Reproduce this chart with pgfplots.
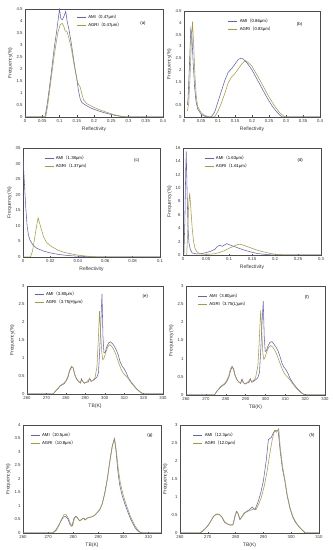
\documentclass[border=0pt]{standalone}
\usepackage{pgfplots}
\pgfplotsset{compat=1.18}
\usepackage{fontspec}
\setmainfont{Liberation Sans}
\newfontfamily\cjk{Noto Sans CJK SC}
\definecolor{ami}{RGB}{95,95,205}
\definecolor{agri}{RGB}{170,155,55}
\newcommand{\lp}{{\cjk （}}
\newcommand{\rp}{{\cjk ）}}
\pgfplotsset{
 panel/.style={
  scale only axis, anchor=south west,
  axis line style={black!70, line width=0.3pt},
  tick style={black!70, line width=0.3pt},
  tick align=inside, major tick length=1.5pt,
  xtick pos=bottom, ytick pos=left,
  scaled ticks=false,
  /pgf/number format/assume math mode=true,
  /pgf/number format/fixed, /pgf/number format/precision=3,
  tick label style={font=\fontsize{4.3}{5}\selectfont, text=black!80},
  xticklabel style={yshift=1pt},
  yticklabel style={xshift=1pt},
  label style={font=\fontsize{5}{6}\selectfont, text=black!80},
  ylabel={Frequency(\%)},
  xlabel style={yshift=3pt},
  ylabel style={yshift=-3pt},
  ymin=0,
  legend style={draw=none, fill=none, font=\fontsize{4.3}{4.8}\selectfont, anchor=north west, legend cell align=left, row sep=-1.5pt, inner sep=0.5pt},
  legend image code/.code={\draw[##1] (0bp,0bp) -- (9bp,0bp);},
  every axis plot/.append style={line width=0.55pt, no markers},
 },
}
\begin{document}
\begin{tikzpicture}
\useasboundingbox (0,0) rectangle (333bp,550bp);
% (a)
\begin{axis}[panel, at={(25bp,433bp)}, width=138bp, height=108bp,
 xmin=0, xmax=0.4, ymax=4.5, xtick={0,0.05,...,0.4}, ytick={0,0.5,...,4.5},
 xlabel={Reflectivity}, legend style={at={(0.37,0.97)}}]
\addplot[ami] coordinates {(0,0)(0.05,0)(0.058,0)(0.065,0.6)(0.075,1.7)(0.085,2.9)(0.093,3.7)(0.1,4.5)(0.104,4.1)(0.108,4.05)(0.113,4.2)(0.118,4.4)(0.122,4.0)(0.128,3.6)(0.135,3.0)(0.142,2.3)(0.15,1.6)(0.155,1.1)(0.16,0.75)(0.165,0.6)(0.175,0.5)(0.19,0.38)(0.2,0.32)(0.22,0.22)(0.24,0.14)(0.26,0.07)(0.28,0.02)(0.29,0)(0.4,0)};
\addlegendentry{AMI\lp 0.47μm\rp}
\addplot[agri] coordinates {(0,0)(0.06,0)(0.066,0.5)(0.075,1.5)(0.085,2.6)(0.095,3.5)(0.102,3.85)(0.108,3.9)(0.112,3.8)(0.116,3.6)(0.122,3.55)(0.128,3.25)(0.135,2.8)(0.142,2.2)(0.15,1.6)(0.155,1.35)(0.16,1.25)(0.165,0.95)(0.17,0.7)(0.18,0.55)(0.2,0.4)(0.22,0.28)(0.24,0.18)(0.26,0.09)(0.28,0.03)(0.295,0)(0.4,0)};
\addlegendentry{AGRI\lp 0.47μm\rp}
\node[font=\fontsize{4.3}{5}\selectfont] at (rel axis cs:0.855,0.87) {(a)};
\end{axis}
% (b)
\begin{axis}[panel, at={(184bp,433bp)}, width=136bp, height=106bp,
 xmin=0, xmax=0.4, ymax=4.5, xtick={0,0.05,...,0.4}, ytick={0,0.5,...,4.5},
 xlabel={Reflectivity}, legend style={at={(0.32,0.95)}}]
\addplot[ami] coordinates {(0.01,0.5)(0.012,0.8)(0.016,2.2)(0.02,3.75)(0.023,3.5)(0.027,2.3)(0.031,1.3)(0.035,0.7)(0.04,0.35)(0.05,0.12)(0.06,0.04)(0.07,0)(0.08,0)(0.09,0.2)(0.1,0.65)(0.11,1.1)(0.12,1.55)(0.13,1.9)(0.14,2.05)(0.15,2.25)(0.16,2.45)(0.168,2.5)(0.175,2.45)(0.185,2.3)(0.2,2.0)(0.215,1.6)(0.23,1.2)(0.245,0.8)(0.26,0.45)(0.275,0.18)(0.288,0)(0.4,0)};
\addlegendentry{AMI\lp 0.86μm\rp}
\addplot[agri] coordinates {(0.01,0.25)(0.014,0.6)(0.018,1.8)(0.022,3.3)(0.025,4.05)(0.028,3.2)(0.032,1.8)(0.036,0.9)(0.04,0.45)(0.05,0.18)(0.06,0.07)(0.075,0)(0.09,0)(0.1,0.25)(0.11,0.6)(0.12,1.0)(0.13,1.45)(0.14,1.7)(0.15,1.85)(0.16,2.05)(0.17,2.25)(0.18,2.4)(0.19,2.3)(0.2,2.15)(0.21,1.9)(0.22,1.65)(0.235,1.25)(0.25,0.85)(0.265,0.5)(0.28,0.2)(0.295,0.02)(0.3,0)(0.4,0)};
\addlegendentry{AGRI\lp 0.83μm\rp}
\node[font=\fontsize{4.3}{5}\selectfont] at (rel axis cs:0.85,0.87) {(b)};
\end{axis}
% (c)
\begin{axis}[panel, at={(23bp,293bp)}, width=137bp, height=109bp,
 xmin=0, xmax=0.1, ymax=35, xtick={0,0.02,...,0.1}, ytick={0,5,...,35},
 xlabel={Reflectivity}, legend style={at={(0.15,0.95)}}]
\addplot[ami] coordinates {(0,32)(0.001,24)(0.002,16)(0.003,10)(0.004,7)(0.005,5.5)(0.007,4)(0.01,2.8)(0.015,1.9)(0.02,1.3)(0.025,0.9)(0.03,0.6)(0.035,0.4)(0.04,0.25)(0.045,0.15)(0.05,0.07)(0.055,0)(0.1,0)};
\addlegendentry{AMI\lp 1.38μm\rp}
\addplot[agri] coordinates {(0,0)(0.0055,0)(0.007,2)(0.009,7.5)(0.011,12.6)(0.013,9.5)(0.015,6.5)(0.017,4.8)(0.02,3.6)(0.025,2.3)(0.03,1.5)(0.035,1.0)(0.04,0.6)(0.045,0.35)(0.05,0.15)(0.055,0.03)(0.06,0)(0.1,0)};
\addlegendentry{AGRI\lp 1.37μm\rp}
\node[font=\fontsize{4.3}{5}\selectfont] at (rel axis cs:0.83,0.89) {(c)};
\end{axis}
% (d)
\begin{axis}[panel, at={(183bp,295bp)}, width=138bp, height=107bp,
 xmin=0, xmax=0.3, ymax=16, xtick={0,0.05,...,0.3}, ytick={0,2,...,16},
 xlabel={Reflectivity}, legend style={at={(0.15,0.95)}}]
\addplot[ami] coordinates {(0.002,0)(0.004,5)(0.006,13)(0.007,15.5)(0.009,9)(0.011,4)(0.013,1.8)(0.016,0.8)(0.02,0.3)(0.03,0.15)(0.04,0.2)(0.05,0.35)(0.06,0.55)(0.07,0.9)(0.075,1.3)(0.08,1.45)(0.085,1.3)(0.09,1.5)(0.095,1.7)(0.1,1.55)(0.11,1.3)(0.12,1.05)(0.13,0.8)(0.14,0.6)(0.15,0.4)(0.16,0.25)(0.17,0.15)(0.18,0.08)(0.19,0.03)(0.2,0)(0.3,0)};
\addlegendentry{AMI\lp 1.63μm\rp}
\addplot[agri] coordinates {(0.008,0)(0.01,3)(0.012,7)(0.0145,9.3)(0.017,7)(0.02,4)(0.023,2)(0.026,1)(0.03,0.5)(0.035,0.25)(0.04,0.15)(0.05,0.1)(0.06,0.12)(0.07,0.2)(0.08,0.4)(0.09,0.65)(0.1,1.0)(0.11,1.3)(0.12,1.6)(0.125,1.6)(0.13,1.5)(0.14,1.25)(0.15,1.0)(0.16,0.75)(0.17,0.55)(0.18,0.38)(0.19,0.22)(0.2,0.12)(0.21,0.05)(0.22,0.02)(0.23,0)(0.3,0)};
\addlegendentry{AGRI\lp 1.61μm\rp}
\node[font=\fontsize{4.3}{5}\selectfont] at (rel axis cs:0.85,0.88) {(d)};
\end{axis}
% (e)
\begin{axis}[panel, at={(27bp,156bp)}, width=136bp, height=108bp,
 xmin=260, xmax=330, ymax=3, xtick={260,270,...,330}, ytick={0,0.5,...,3},
 xlabel={TB(K)}, legend style={at={(0.05,0.97)}}]
\addplot[ami] coordinates {(260,0)(273.5,0)(275,0.1)(276,0.15)(277,0.22)(278,0.25)(279,0.28)(280,0.35)(281,0.45)(282,0.65)(283,0.75)(283.8,0.72)(284.5,0.55)(285.5,0.42)(286.5,0.35)(287.5,0.3)(288,0.42)(288.7,0.35)(289.5,0.3)(290.5,0.33)(291.5,0.33)(292.3,0.43)(293,0.35)(294,0.38)(295,0.42)(296,0.47)(296.8,0.6)(297.5,1.3)(298,2.0)(298.6,2.78)(299.1,1.6)(299.6,1.15)(300.2,1.15)(301,1.3)(302,1.42)(303,1.45)(304,1.4)(305,1.32)(306,1.22)(307,1.08)(308,0.88)(309,0.77)(310,0.7)(311,0.6)(312,0.47)(313,0.38)(314,0.3)(315,0.24)(316,0.17)(317,0.12)(318,0.07)(319,0.03)(320,0)(330,0)};
\addlegendentry{AMI\lp 3.80μm\rp}
\addplot[agri] coordinates {(260,0)(273.5,0)(275,0.1)(276,0.16)(277,0.23)(278,0.27)(279,0.3)(280,0.37)(281,0.48)(282,0.68)(283,0.77)(283.8,0.72)(284.5,0.55)(285.5,0.42)(286.5,0.35)(287.5,0.32)(288,0.38)(288.7,0.35)(289.5,0.3)(290.5,0.32)(291.5,0.38)(292.3,0.42)(293,0.36)(294,0.38)(295,0.45)(296,0.75)(296.7,1.5)(297.3,2.3)(297.9,1.7)(298.5,1.15)(299,0.95)(299.7,1.0)(300.5,1.15)(301.5,1.3)(302.5,1.37)(303.5,1.33)(304.5,1.25)(305.5,1.13)(306.5,0.98)(307.5,0.82)(308.5,0.68)(309.5,0.58)(310.5,0.52)(311.5,0.47)(312.5,0.4)(313.5,0.32)(315,0.22)(316.5,0.13)(318,0.06)(319.5,0.01)(320,0)(330,0)};
\addlegendentry{AGRI\lp 3.75(H)μm\rp}
\node[font=\fontsize{4.3}{5}\selectfont] at (rel axis cs:0.87,0.9) {(e)};
\end{axis}
% (f)
\begin{axis}[panel, at={(186bp,155bp)}, width=139bp, height=109bp,
 xmin=260, xmax=330, ymax=3, xtick={260,270,...,330}, ytick={0,0.5,...,3},
 xlabel={TB(K)}, legend style={at={(0.08,0.95)}}]
\addplot[ami] coordinates {(260,0)(274.3,0)(275.5,0.1)(276.5,0.16)(277.5,0.22)(278.5,0.26)(279.5,0.3)(280.5,0.37)(281.5,0.48)(282.5,0.68)(283.3,0.78)(284,0.72)(284.7,0.55)(285.7,0.42)(286.7,0.35)(287.5,0.32)(288.2,0.44)(288.9,0.35)(289.7,0.3)(290.7,0.33)(291.7,0.34)(292.4,0.45)(293.1,0.35)(294.1,0.38)(295.1,0.42)(296.2,0.48)(297,0.62)(297.7,1.3)(298.2,1.9)(298.9,2.58)(299.4,1.6)(299.9,1.2)(300.5,1.22)(301.3,1.35)(302.3,1.45)(303.3,1.47)(304.3,1.4)(305.3,1.32)(306.3,1.22)(307.3,1.07)(308.3,0.88)(309.3,0.77)(310.3,0.7)(311.3,0.6)(312.3,0.47)(313.3,0.38)(314.3,0.3)(315.3,0.23)(316.3,0.16)(317.3,0.11)(318.3,0.06)(319.3,0.02)(320,0)(330,0)};
\addlegendentry{AMI\lp 3.80μm\rp}
\addplot[agri] coordinates {(260,0)(274.3,0)(275.5,0.1)(276.5,0.17)(277.5,0.24)(278.5,0.28)(279.5,0.32)(280.5,0.4)(281.5,0.52)(282.3,0.7)(283,0.78)(283.8,0.72)(284.5,0.56)(285.5,0.43)(286.5,0.36)(287.3,0.33)(288,0.38)(288.7,0.35)(289.5,0.31)(290.5,0.33)(291.5,0.38)(292.3,0.43)(293,0.37)(294,0.4)(295,0.47)(296.2,0.8)(296.9,1.5)(297.6,2.33)(298.2,1.7)(298.7,1.15)(299.2,0.98)(299.9,1.05)(300.7,1.2)(301.7,1.32)(302.7,1.36)(303.7,1.32)(304.7,1.23)(305.7,1.12)(306.7,0.97)(307.7,0.82)(308.7,0.68)(309.7,0.58)(310.7,0.52)(311.7,0.46)(312.7,0.39)(313.7,0.31)(315,0.22)(316.5,0.13)(318,0.06)(319.5,0.01)(320,0)(330,0)};
\addlegendentry{AGRI\lp 3.75(L)μm\rp}
\node[font=\fontsize{4.3}{5}\selectfont] at (rel axis cs:0.87,0.9) {(f)};
\end{axis}
% (g)
\begin{axis}[panel, at={(23bp,17bp)}, width=138bp, height=108bp,
 xmin=260, xmax=315, ymax=4, xtick={260,270,...,310}, ytick={0,0.5,...,4},
 xlabel={TB(K)}, legend style={at={(0.05,0.95)}}]
\addplot[ami] coordinates {(260,0)(271.7,0)(273,0.1)(274,0.25)(275,0.42)(276,0.58)(277,0.62)(278,0.5)(278.8,0.3)(279.5,0.25)(280.3,0.55)(281,0.62)(281.8,0.55)(282.5,0.45)(283.3,0.5)(284,0.55)(284.8,0.48)(285.5,0.55)(286.5,0.58)(287.5,0.6)(288.5,0.65)(289.5,0.75)(290.5,0.85)(291.5,1.05)(292.5,1.45)(293.5,1.95)(294.5,2.6)(295.5,3.2)(296.4,3.5)(297,3.1)(297.8,2.3)(298.5,1.8)(299.5,1.4)(300.5,1.1)(301.5,0.85)(302.5,0.6)(303.5,0.4)(304.5,0.22)(305.5,0.1)(306.5,0.03)(307.5,0)(315,0)};
\addlegendentry{AMI\lp 10.5μm\rp}
\addplot[agri] coordinates {(260,0)(272,0)(273.3,0.1)(274.3,0.28)(275.3,0.5)(276.3,0.68)(277.2,0.68)(278.2,0.52)(279,0.32)(279.8,0.27)(280.6,0.58)(281.3,0.6)(282,0.52)(282.8,0.45)(283.6,0.52)(284.3,0.55)(285,0.5)(285.8,0.56)(286.8,0.58)(287.8,0.62)(288.8,0.67)(289.8,0.78)(290.8,0.9)(291.8,1.15)(292.8,1.55)(293.8,2.1)(294.8,2.75)(295.8,3.3)(296.6,3.45)(297.2,3.05)(298,2.35)(298.8,1.85)(299.8,1.45)(300.8,1.15)(301.8,0.88)(302.8,0.62)(303.8,0.42)(304.8,0.24)(305.8,0.11)(306.8,0.03)(307.8,0)(315,0)};
\addlegendentry{AGRI\lp 10.8μm\rp}
\node[font=\fontsize{4.3}{5}\selectfont] at (rel axis cs:0.92,0.9) {(g)};
\end{axis}
% (h)
\begin{axis}[panel, at={(180bp,17bp)}, width=139bp, height=108bp,
 xmin=260, xmax=310, ymax=3, xtick={260,270,...,310}, ytick={0,0.5,...,3},
 xlabel={TB(K)}, legend style={at={(0.09,0.95)}}]
\addplot[ami] coordinates {(260,0)(267.2,0)(268,0.05)(269,0.12)(270,0.2)(271,0.32)(272,0.45)(273,0.52)(274,0.52)(275,0.45)(276,0.3)(277,0.25)(278,0.22)(279,0.22)(279.7,0.45)(280.3,0.6)(280.8,0.55)(281.5,0.38)(282.3,0.45)(283,0.55)(284,0.6)(285,0.65)(286,0.72)(287,0.65)(288,0.85)(289,1.1)(290,1.45)(291,2.0)(291.8,2.6)(292.8,2.65)(293.7,2.8)(294.5,2.85)(295.3,2.85)(296,2.3)(296.8,1.8)(297.7,1.45)(298.5,1.05)(299.5,0.7)(300.5,0.45)(301.5,0.3)(302.5,0.2)(303.5,0.12)(304.5,0.04)(305,0)(310,0)};
\addlegendentry{AMI\lp 12.3μm\rp}
\addplot[agri] coordinates {(260,0)(267.4,0)(268.2,0.05)(269.2,0.13)(270.2,0.22)(271.2,0.35)(272.2,0.48)(273.2,0.53)(274.2,0.52)(275.2,0.43)(276.2,0.3)(277.2,0.25)(278.2,0.22)(279.2,0.25)(279.9,0.5)(280.5,0.6)(281,0.52)(281.7,0.38)(282.5,0.47)(283.3,0.55)(284.3,0.6)(285.3,0.63)(286.3,0.66)(287.3,0.65)(288.3,0.8)(289.3,1.0)(290.3,1.3)(291.3,1.7)(292.3,2.2)(293.2,2.6)(294,2.85)(294.7,2.8)(295.5,2.9)(296.1,2.35)(296.9,1.85)(297.8,1.45)(298.6,1.05)(299.6,0.7)(300.6,0.46)(301.6,0.31)(302.6,0.2)(303.6,0.11)(304.6,0.04)(305.2,0)(310,0)};
\addlegendentry{AGRI\lp 12.0μm\rp}
\node[font=\fontsize{4.3}{5}\selectfont] at (rel axis cs:0.95,0.9) {(h)};
\end{axis}
\end{tikzpicture}
\end{document}
